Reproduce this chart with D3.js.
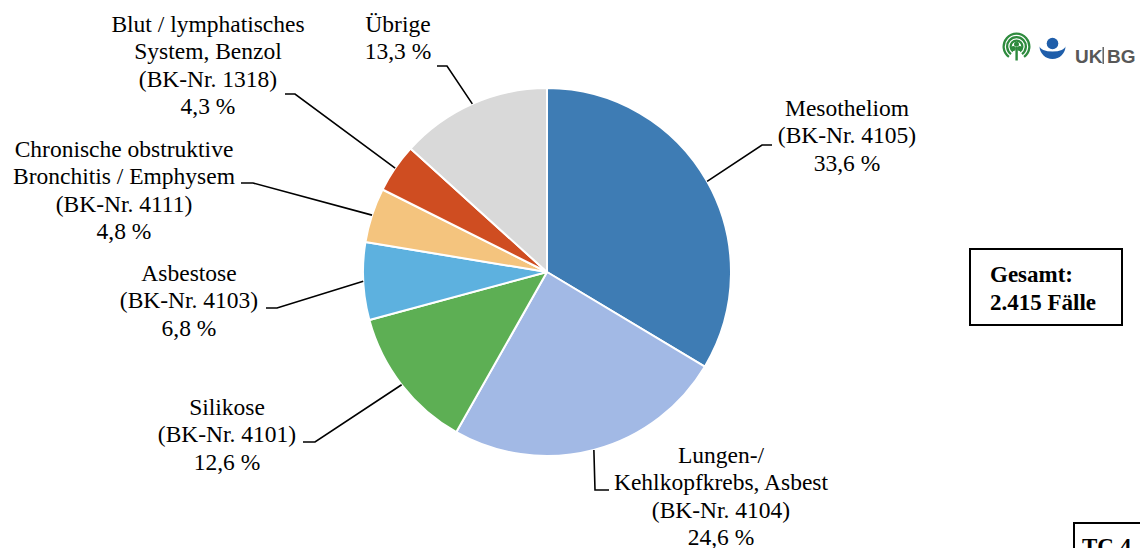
<!DOCTYPE html>
<html>
<head>
<meta charset="utf-8">
<script src="https://cdn.jsdelivr.net/npm/d3@7"></script>
<style>
  html, body { margin: 0; padding: 0; background: #fff; }
  svg { display: block; }
</style>
</head>
<body>
<svg id="chart" width="1140" height="548"></svg>
<script>
// slice values (percent of cases), clockwise from 12 o'clock
const categories = ['Mesotheliom', 'Lungen-/Kehlkopfkrebs, Asbest', 'Silikose', 'Asbestose',
  'Chronische obstruktive Bronchitis / Emphysem', 'Blut / lymphatisches System, Benzol', 'Übrige'];
const shares = [33.6, 24.6, 12.6, 6.8, 4.8, 4.3, 13.3];
const labelLines = [
  ['Mesotheliom', '(BK-Nr. 4105)', '33,6 %'],
  ['Lungen-/', 'Kehlkopfkrebs, Asbest', '(BK-Nr. 4104)', '24,6 %'],
  ['Silikose', '(BK-Nr. 4101)', '12,6 %'],
  ['Asbestose', '(BK-Nr. 4103)', '6,8 %'],
  ['Chronische obstruktive', 'Bronchitis / Emphysem', '(BK-Nr. 4111)', '4,8 %'],
  ['Blut / lymphatisches', 'System, Benzol', '(BK-Nr. 1318)', '4,3 %'],
  ['Übrige', '13,3 %']
];
const totalLines = ['Gesamt:', '2.415 Fälle'];
const colors = ['#3e7cb4', '#a2b9e5', '#5daf54', '#5db1df', '#f4c47e', '#cf4d21', '#d9d9d9'];

// label placement: text centre, first baseline, elbow of the leader, end of the short tail
const labelLayout = [
  { x: 847, y: 116, ex: 762, ey: 145, tx: 772 },
  { x: 721, y: 463, ex: 595, ey: 490, tx: 609 },
  { x: 227, y: 415, ex: 315, ey: 442, tx: 303 },
  { x: 189, y: 281, ex: 277, ey: 308, tx: 266 },
  { x: 124, y: 157, ex: 253, ey: 183, tx: 241 },
  { x: 208, y: 32, ex: 295, ey: 94, tx: 285 },
  { x: 398, y: 32, ex: 447, ey: 66, tx: 437 }
];

const serif = '"Liberation Serif", "Times New Roman", serif';
const sans = '"Liberation Sans", Arial, sans-serif';

const svg = d3.select('#chart');
svg.append('rect').attr('width', 1140).attr('height', 548).attr('fill', '#fff');

const cx = 547, cy = 272, radius = 184;
const lineH = 27.4;

const pie = d3.pie().sort(null).value(d => d)(shares);
const arc = d3.arc().innerRadius(0).outerRadius(radius);
const rim = d3.arc().innerRadius(radius).outerRadius(radius);

const g = svg.append('g').attr('transform', `translate(${cx},${cy})`);
g.selectAll('path.slice')
  .data(pie)
  .join('path')
  .attr('class', 'slice')
  .attr('d', arc)
  .attr('fill', (d, i) => colors[i])
  .attr('stroke', '#fff')
  .attr('stroke-width', 2)
  .attr('stroke-linejoin', 'round');

// leader lines
svg.append('g').selectAll('path')
  .data(pie)
  .join('path')
  .attr('fill', 'none')
  .attr('stroke', '#000')
  .attr('stroke-width', 1.6)
  .attr('d', (d, i) => {
    const p = rim.centroid(d);
    const l = labelLayout[i];
    return `M${cx + p[0]},${cy + p[1]}L${l.ex},${l.ey}L${l.tx},${l.ey}`;
  });

// labels
const labels = svg.append('g');
labelLines.forEach((lines, i) => {
  const l = labelLayout[i];
  const t = labels.append('text')
    .attr('text-anchor', 'middle')
    .attr('font-family', serif)
    .attr('font-size', 23.5)
    .attr('fill', '#000');
  lines.forEach((s, k) => {
    t.append('tspan').attr('x', l.x).attr('y', l.y + k * lineH).text(s);
  });
});

// total box
svg.append('rect')
  .attr('x', 970).attr('y', 249).attr('width', 152).attr('height', 76)
  .attr('fill', 'none').attr('stroke', '#000').attr('stroke-width', 2);
const tot = svg.append('text')
  .attr('font-family', serif).attr('font-size', 23).attr('font-weight', 'bold');
totalLines.forEach((s, k) => {
  tot.append('tspan').attr('x', 990).attr('y', 282 + k * 28).text(s);
});

// TC 4 tag
svg.append('rect')
  .attr('x', 1074).attr('y', 523).attr('width', 80).attr('height', 40)
  .attr('fill', 'none').attr('stroke', '#000').attr('stroke-width', 2);
svg.append('text').attr('x', 1082).attr('y', 554)
  .attr('font-family', serif).attr('font-size', 23).attr('font-weight', 'bold')
  .text('TC 4');

// logo
const logo = svg.append('g');
const green = '#2e8b3e';
const ringArc = d3.arc().startAngle(-Math.PI * 0.8).endAngle(Math.PI * 0.8);
[14, 10.5, 7].forEach(r => {
  logo.append('path')
    .attr('transform', 'translate(1016.5,46.5)')
    .attr('d', ringArc.innerRadius(r - 2.3).outerRadius(r)())
    .attr('fill', green);
});
logo.append('rect').attr('x', 1015.4).attr('y', 47).attr('width', 2.4).attr('height', 13.5).attr('fill', green);
[[1013.3, 48.5], [1019.7, 48.5], [1016.5, 44.3]].forEach(c => {
  logo.append('circle').attr('cx', c[0]).attr('cy', c[1]).attr('r', 2.5).attr('fill', green);
});
const blue = '#1f5eaa';
logo.append('path')
  .attr('d', 'M1039.5,46 A13,13 0 0 0 1065.5,46 A13,5.5 0 0 1 1039.5,46 Z')
  .attr('fill', blue);
logo.append('circle').attr('cx', 1052.5).attr('cy', 43.5).attr('r', 5.8).attr('fill', blue);
logo.append('text').attr('x', 1075).attr('y', 63)
  .attr('font-family', sans).attr('font-weight', 'bold').attr('font-size', 19).attr('fill', '#585858')
  .text('UK');
logo.append('rect').attr('x', 1102.5).attr('y', 47).attr('width', 1.4).attr('height', 17).attr('fill', '#585858');
logo.append('text').attr('x', 1107).attr('y', 63)
  .attr('font-family', sans).attr('font-weight', 'bold').attr('font-size', 19).attr('fill', '#585858')
  .text('BG');
</script>
</body>
</html>
